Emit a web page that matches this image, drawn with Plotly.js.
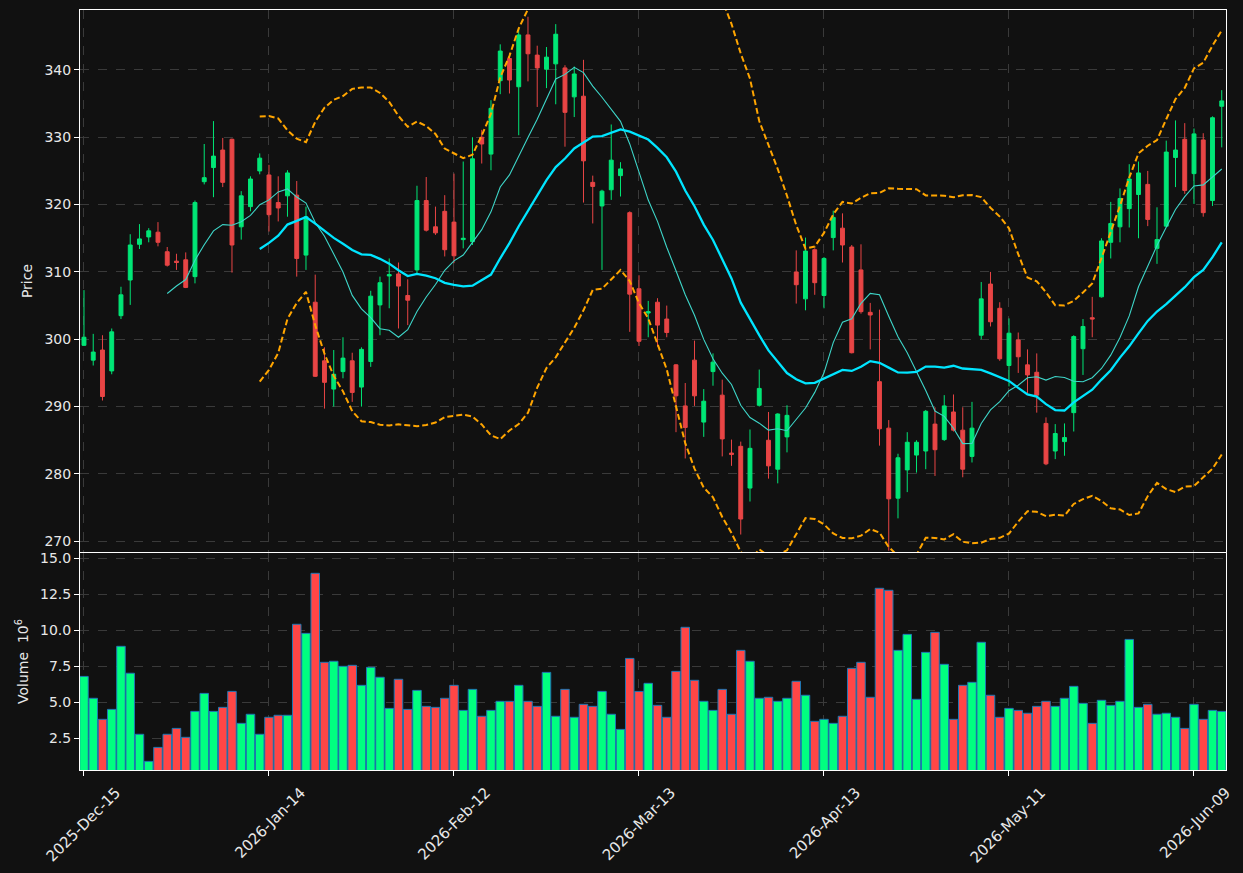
<!DOCTYPE html>
<html>
<head>
<meta charset="utf-8">
<script src="https://cdn.plot.ly/plotly-3.0.1.min.js"></script>
<style>
html,body{margin:0;padding:0;background:#111111;}
#chart{width:1243px;height:873px;}
</style>
</head>
<body>
<div id="chart"></div>
<script>
const dates = [
"2025-12-15","2025-12-16","2025-12-17","2025-12-18","2025-12-19","2025-12-22","2025-12-23","2025-12-24","2025-12-26","2025-12-29",
"2025-12-30","2025-12-31","2026-01-02","2026-01-05","2026-01-06","2026-01-07","2026-01-08","2026-01-09","2026-01-12","2026-01-13",
"2026-01-14","2026-01-15","2026-01-16","2026-01-20","2026-01-21","2026-01-22","2026-01-23","2026-01-26","2026-01-27","2026-01-28",
"2026-01-29","2026-01-30","2026-02-02","2026-02-03","2026-02-04","2026-02-05","2026-02-06","2026-02-09","2026-02-10","2026-02-11",
"2026-02-12","2026-02-13","2026-02-17","2026-02-18","2026-02-19","2026-02-20","2026-02-23","2026-02-24","2026-02-25","2026-02-26",
"2026-02-27","2026-03-02","2026-03-03","2026-03-04","2026-03-05","2026-03-06","2026-03-09","2026-03-10","2026-03-11","2026-03-12",
"2026-03-13","2026-03-16","2026-03-17","2026-03-18","2026-03-19","2026-03-20","2026-03-23","2026-03-24","2026-03-25","2026-03-26",
"2026-03-27","2026-03-30","2026-03-31","2026-04-01","2026-04-02","2026-04-06","2026-04-07","2026-04-08","2026-04-09","2026-04-10",
"2026-04-13","2026-04-14","2026-04-15","2026-04-16","2026-04-17","2026-04-20","2026-04-21","2026-04-22","2026-04-23","2026-04-24",
"2026-04-27","2026-04-28","2026-04-29","2026-04-30","2026-05-01","2026-05-04","2026-05-05","2026-05-06","2026-05-07","2026-05-08",
"2026-05-11","2026-05-12","2026-05-13","2026-05-14","2026-05-15","2026-05-18","2026-05-19","2026-05-20","2026-05-21","2026-05-22",
"2026-05-26","2026-05-27","2026-05-28","2026-05-29","2026-06-01","2026-06-02","2026-06-03","2026-06-04","2026-06-05","2026-06-08",
"2026-06-09","2026-06-10","2026-06-11","2026-06-12"];

const open = [
299.1,296.9,298.4,295.3,303.5,308.8,314.1,315.2,315.9,313.0,
311.6,311.8,309.3,323.4,325.5,328.1,329.7,316.7,319.7,325.0,
324.4,320.3,321.3,321.4,312.5,305.5,296.8,292.6,295.2,296.8,
292.9,296.7,305.1,309.4,309.7,306.5,310.3,320.6,316.7,319.0,
317.4,314.8,314.5,330.0,327.5,338.4,341.7,337.5,345.2,342.2,
340.1,340.9,340.3,336.0,336.1,323.3,319.8,322.2,324.3,318.8,
307.5,303.9,305.5,303.0,296.2,290.1,296.9,287.7,295.2,291.7,
283.1,284.1,277.9,290.2,285.0,280.7,285.5,310.0,306.0,313.3,
306.5,315.1,316.5,313.7,310.3,304.0,293.7,286.8,276.4,280.6,
282.8,283.4,287.4,285.1,289.2,286.5,282.6,300.6,308.2,304.6,
296.1,299.9,296.2,295.1,287.5,283.4,284.8,289.1,298.6,303.2,
306.3,314.4,316.7,319.4,321.5,323.0,313.5,316.8,327.0,329.7,
324.6,329.6,320.6,334.6];
const high = [
307.3,300.8,300.6,301.6,307.8,315.6,317.1,316.5,317.4,313.7,
312.7,312.9,320.6,329.0,332.4,329.9,329.8,322.0,324.2,327.6,
325.9,324.2,325.1,323.5,319.7,309.6,298.8,298.4,300.3,298.0,
298.8,307.2,309.3,312.0,311.4,308.9,322.8,324.1,319.7,321.4,
324.6,326.4,330.0,331.1,335.5,343.8,342.5,346.2,347.9,343.6,
343.4,346.8,340.7,340.5,341.5,324.3,322.2,331.9,326.3,319.0,
309.5,305.7,306.1,305.0,296.3,293.5,299.8,292.6,297.9,294.0,
285.1,284.8,286.6,295.5,289.2,289.0,290.2,313.2,315.1,313.5,
312.2,319.1,318.7,314.0,314.1,305.4,304.4,288.0,283.0,286.2,
285.0,289.5,289.9,291.7,291.8,289.9,290.7,308.5,310.0,305.5,
303.1,301.0,298.5,297.9,288.4,287.4,287.5,300.6,303.0,306.3,
315.0,320.4,322.4,326.0,326.4,325.0,319.6,329.5,332.5,332.1,
331.3,330.6,333.1,337.0];
const low = [
299.0,296.1,290.9,294.8,303.0,305.1,313.4,314.4,313.8,310.8,
310.3,307.6,308.3,323.0,321.1,322.6,309.9,314.8,319.0,324.5,
316.0,317.5,318.2,309.3,310.3,294.4,289.7,290.0,294.2,290.7,
290.0,295.9,300.6,304.6,301.6,302.1,309.8,316.0,315.5,312.3,
311.3,313.5,314.0,326.1,325.1,336.4,336.5,330.3,338.3,334.5,
337.3,334.9,328.6,333.0,320.3,317.2,310.3,320.7,321.2,301.1,
299.0,300.3,298.9,300.3,286.2,282.3,290.1,285.5,293.1,282.6,
281.2,271.0,275.9,290.0,279.3,278.6,283.2,305.3,304.3,306.6,
304.6,313.2,311.4,297.9,303.8,298.5,284.2,268.6,273.4,277.3,
280.2,280.7,279.7,284.9,286.3,279.5,281.7,300.0,301.9,296.8,
293.0,295.0,292.0,289.1,281.3,282.2,282.7,286.3,294.7,300.3,
306.2,312.0,314.4,316.6,315.0,316.8,311.2,316.7,322.6,321.6,
320.1,318.2,319.8,328.5];
const close = [
300.3,298.1,291.5,301.1,306.6,314.0,314.9,316.1,314.4,311.0,
311.4,307.7,320.3,324.0,327.2,323.3,314.0,321.3,323.8,326.9,
318.5,319.5,324.7,312.0,318.2,294.5,293.6,294.8,297.2,292.1,
298.5,306.4,308.4,309.6,307.9,305.8,320.6,316.2,315.8,313.3,
312.4,315.0,326.8,329.0,334.3,342.8,338.5,345.2,342.4,340.3,
341.9,345.3,333.7,339.4,326.5,322.7,322.0,326.6,325.3,306.7,
299.7,304.1,302.1,301.0,291.6,286.9,291.6,290.8,296.6,285.2,
282.9,273.3,283.8,292.7,281.2,288.9,288.7,308.1,313.1,308.4,
312.0,318.1,314.0,298.0,304.1,303.6,286.7,276.3,282.4,284.7,
284.7,289.3,283.6,290.1,286.5,280.7,286.8,306.0,302.6,297.1,
300.9,297.4,294.7,291.7,281.5,286.0,285.4,300.4,301.9,303.0,
314.6,317.2,320.9,323.8,324.7,317.8,314.8,327.8,328.1,322.1,
330.5,318.8,332.9,335.4];
const volume = [
6.78,5.26,3.80,4.49,8.87,7.00,2.76,0.88,1.85,2.76,
3.17,2.55,4.35,5.60,4.35,4.63,5.74,3.52,4.15,2.76,
3.94,4.08,4.08,10.40,9.77,13.94,7.76,7.83,7.48,7.55,
6.16,7.41,6.72,4.56,6.58,4.49,5.81,4.70,4.63,5.26,
6.16,4.42,5.88,4.01,4.42,5.05,5.05,6.16,5.05,4.70,
7.06,4.01,5.88,3.94,4.84,4.70,5.74,4.15,3.10,8.03,
5.74,6.30,4.77,3.94,7.13,10.19,6.51,5.05,4.42,5.88,
4.15,8.59,7.83,5.26,5.33,5.05,5.26,6.44,5.47,3.66,
3.80,3.52,4.01,7.34,7.76,5.33,12.90,12.76,8.59,9.70,
5.19,8.45,9.84,7.62,3.80,6.16,6.37,9.15,5.47,3.94,
4.56,4.42,4.22,4.70,5.05,4.70,5.26,6.09,4.91,3.52,
5.12,4.77,5.05,9.35,4.63,4.84,4.15,4.22,3.94,3.17,
4.84,3.80,4.42,4.35];

const tickIdx = [0,20,40,60,80,100,120];
const monthNames = ["Jan","Feb","Mar","Apr","May","Jun","Jul","Aug","Sep","Oct","Nov","Dec"];
const fmt = d => { const p = d.split("-"); return p[0] + "-" + monthNames[+p[1]-1] + "-" + p[2]; };
const tickText = tickIdx.map(i => fmt(dates[i]));

const idx = dates.map((d, i) => i);

// rolling indicators derived from close
function sma(arr, n) {
  return arr.map((v, i) => {
    if (i < n - 1) return null;
    let s = 0; for (let k = i - n + 1; k <= i; k++) s += arr[k];
    return s / n;
  });
}
function bands(arr, n, m) {
  const mid = sma(arr, n);
  const up = [], lo = [];
  arr.forEach((v, i) => {
    if (i < n - 1) { up.push(null); lo.push(null); return; }
    let s = 0; for (let k = i - n + 1; k <= i; k++) s += (arr[k] - mid[i]) ** 2;
    const sd = Math.sqrt(s / n);
    up.push(mid[i] + m * sd); lo.push(mid[i] - m * sd);
  });
  return {up, lo};
}
const ma10 = sma(close, 10);
const ma20 = sma(close, 20);
const bb = bands(close, 20, 2);

const upC = '#00e676', dnC = '#e84545';
const upV = '#00ff80', dnV = '#ff4646';
const volColors = close.map((c, i) => c >= open[i] ? upV : dnV);

const traces = [
  {type: 'candlestick', x: idx, open: open, high: high, low: low, close: close,
   xaxis: 'x', yaxis: 'y', hoverinfo: 'skip', whiskerwidth: 0,
   increasing: {line: {color: upC, width: 1}, fillcolor: upC},
   decreasing: {line: {color: dnC, width: 1}, fillcolor: dnC}},
  {type: 'scatter', mode: 'lines', x: idx, y: ma10, xaxis: 'x', yaxis: 'y',
   line: {color: '#3ed6c9', width: 1.1}, hoverinfo: 'skip'},
  {type: 'scatter', mode: 'lines', x: idx, y: ma20, xaxis: 'x', yaxis: 'y',
   line: {color: '#00e5ff', width: 2.3}, hoverinfo: 'skip'},
  {type: 'scatter', mode: 'lines', x: idx, y: bb.up, xaxis: 'x', yaxis: 'y',
   line: {color: '#ffa500', width: 2, dash: '6px,3px'}, hoverinfo: 'skip'},
  {type: 'scatter', mode: 'lines', x: idx, y: bb.lo, xaxis: 'x', yaxis: 'y',
   line: {color: '#ffa500', width: 2, dash: '6px,3px'}, hoverinfo: 'skip'},
  {type: 'bar', x: idx, y: volume, xaxis: 'x2', yaxis: 'y2', width: 0.92,
   marker: {color: volColors, line: {color: '#1f77b4', width: 1}}, hoverinfo: 'skip'}
];

const font = {family: 'DejaVu Sans, sans-serif', size: 14, color: '#e8e8e8'};
const grid = {showgrid: true, gridcolor: '#3a3a3a', griddash: 'dash', gridwidth: 1};
const xr = [-0.43, 123.46];

const layout = {
  width: 1243, height: 873,
  paper_bgcolor: '#111111', plot_bgcolor: '#111111',
  font: font, showlegend: false, boxgap: 0.4,
  margin: {l: 80, r: 17, t: 10, b: 103},
  xaxis: Object.assign({}, grid, {domain: [0, 1], anchor: 'y', range: xr, type: 'linear',
    tickvals: tickIdx, showticklabels: false, ticks: '', rangeslider: {visible: false},
    showline: true, mirror: true, linecolor: '#ffffff', linewidth: 1, zeroline: false}),
  yaxis: Object.assign({}, grid, {domain: [0.2868, 1], anchor: 'x', range: [268.4, 348.9],
    tickvals: [270, 280, 290, 300, 310, 320, 330, 340], ticks: 'outside', ticklen: 5, tickcolor: '#ffffff',
    showline: true, mirror: true, linecolor: '#ffffff', linewidth: 1, zeroline: false,
    title: {text: 'Price', font: font, standoff: 8}}),
  xaxis2: Object.assign({}, grid, {domain: [0, 1], anchor: 'y2', range: xr, type: 'linear',
    tickvals: tickIdx, ticktext: tickText, tickangle: -45, ticks: 'outside', ticklen: 5, tickcolor: '#ffffff',
    tickfont: {family: 'DejaVu Sans, sans-serif', size: 15, color: '#e8e8e8'},
    ticklabelshift: 32, ticklabelstandoff: 2,
    showline: true, mirror: true, linecolor: '#ffffff', linewidth: 1, zeroline: false}),
  yaxis2: Object.assign({}, grid, {domain: [0, 0.2855], anchor: 'x2', range: [0.28, 15.35],
    tickvals: [2.5, 5, 7.5, 10, 12.5, 15], tickformat: '.1f', ticks: 'outside', ticklen: 5, tickcolor: '#ffffff',
    showline: true, mirror: true, linecolor: '#ffffff', linewidth: 1, zeroline: false,
    title: {text: 'Volume  10<sup>6</sup>', font: font, standoff: 8}})
};

Plotly.newPlot('chart', traces, layout, {staticPlot: true, displayModeBar: false});
</script>
</body>
</html>
